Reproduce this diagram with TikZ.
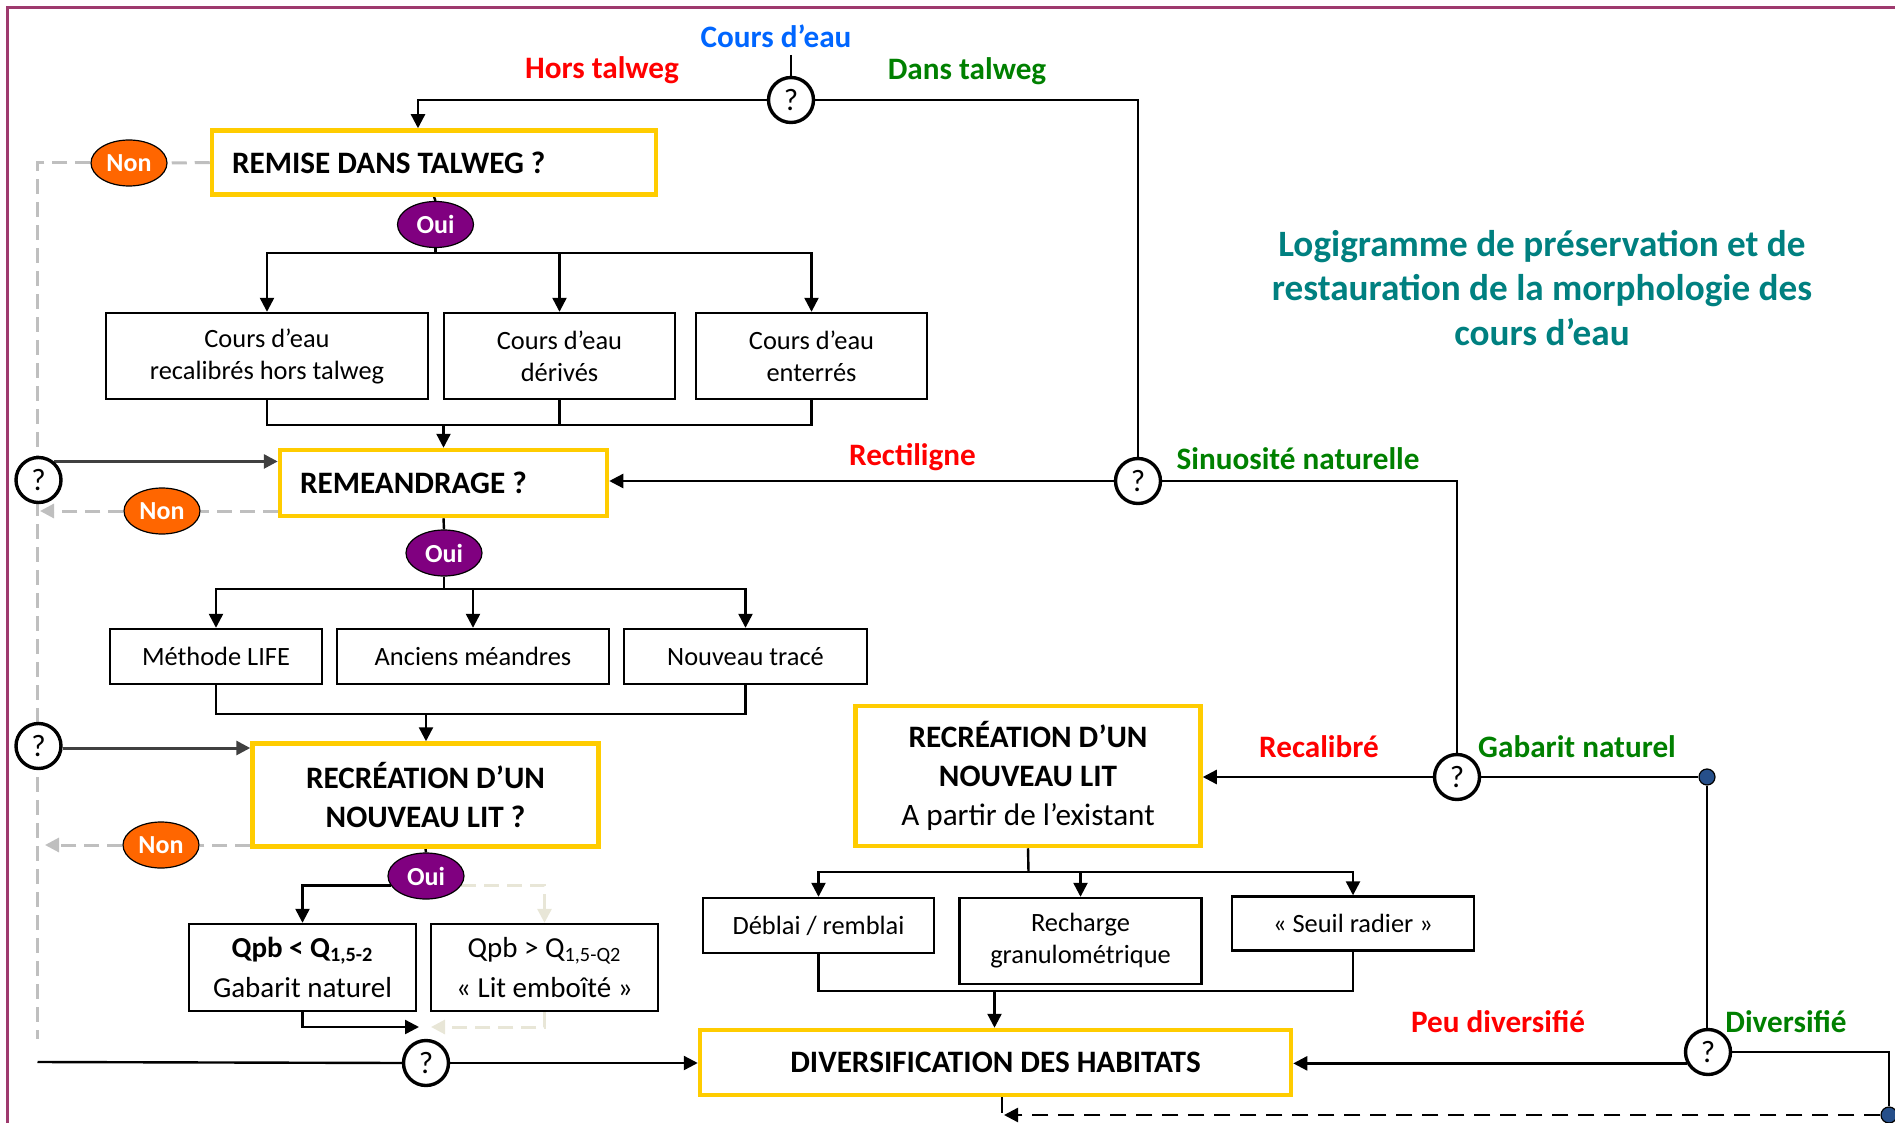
\documentclass[tikz,border=0pt]{standalone}
\usepackage{fontspec}
\setmainfont{Carlito}
\usetikzlibrary{arrows.meta,shapes.geometric,backgrounds}
\definecolor{ybord}{RGB}{255,204,0}
\definecolor{nonc}{RGB}{255,102,0}
\definecolor{ouic}{RGB}{128,0,128}
\definecolor{redc}{RGB}{255,0,0}
\definecolor{greenc}{RGB}{0,128,0}
\definecolor{bluec}{RGB}{0,102,255}
\definecolor{tealc}{RGB}{0,128,128}
\definecolor{framec}{RGB}{158,58,110}
\definecolor{dotc}{RGB}{38,79,138}
\definecolor{gdc}{RGB}{191,191,191}
\definecolor{beigec}{RGB}{232,230,215}
\definecolor{dgray}{RGB}{64,64,64}
\begin{document}
\begin{tikzpicture}[x=0.5pt,y=-0.5pt,
  ybox/.style={draw=ybord, line width=2.25pt, fill=white, font=\bfseries\fontsize{15.6}{19.5}\selectfont, inner sep=0pt},
  sbox/.style={draw=black, line width=1.2pt, fill=white, font=\fontsize{13.2}{16}\selectfont, align=center, inner sep=0pt},
  qc/.style={circle, draw=black, line width=1.7pt, fill=white, minimum size=22.5pt, inner sep=0pt, font=\fontsize{15.5}{18}\selectfont},
  yn/.style={ellipse, draw=black, line width=0.6pt, minimum width=38pt, minimum height=23pt, inner sep=0pt, text=white, font=\bfseries\fontsize{13}{15}\selectfont},
  lbl/.style={font=\bfseries\fontsize{15.6}{19}\selectfont, inner sep=0pt},
  dotst/.style={circle, fill=dotc, draw=black, line width=0.6pt, minimum size=8pt, inner sep=0pt},
  conn/.style={line width=1.2pt, draw=black},
  tip/.style={-{Triangle[length=7pt,width=7pt]}},
  arr/.style={conn, tip},
  darr/.style={line width=1.5pt, draw=dgray, tip},
  gdash/.style={line width=1.5pt, draw=gdc, dash pattern=on 7.5pt off 4pt},
  ldash/.style={line width=1.5pt, draw=beigec, dash pattern=on 7.5pt off 4pt},
  bdash/.style={line width=1.2pt, draw=black, dash pattern=on 8pt off 5pt},
]
\useasboundingbox (0,0) rectangle (1895,1123);
\draw[framec, line width=1.5pt] (7.3,1123) -- (7.3,7.3) -- (1895,7.3);

% ---------- nodes ----------
\node[lbl,text=bluec] (cde) at (776,36) {Cours d’eau};
\node[lbl,text=redc] (hors) at (602,70) {Hors talweg};
\node[lbl,text=greenc] (dans) at (967,71) {Dans talweg};
\node[qc] (q1) at (791,100) {?};
\node[ybox, minimum height=32pt, text width=202pt, align=flush left, inner xsep=10pt] (remise) at (434,162.5) {REMISE DANS TALWEG ?};
\node[yn, fill=nonc] (non1) at (129,163) {Non};
\node[yn, fill=ouic] (oui1) at (435.5,224.5) {Oui};
\node[sbox, minimum width=161pt, minimum height=43pt] (ba) at (267,356) {Cours d’eau\\recalibrés hors talweg};
\node[sbox, minimum width=115.5pt, minimum height=43pt] (bb) at (559.5,356) {Cours d’eau\\dérivés};
\node[sbox, minimum width=115.5pt, minimum height=43pt] (bc) at (811.5,356) {Cours d’eau\\enterrés};

\node[ybox, minimum height=33pt, text width=143.5pt, align=flush left, inner xsep=10pt] (remea) at (443.5,483) {REMEANDRAGE ?};
\node[qc] (ql1) at (38.5,480) {?};
\node[yn, fill=nonc] (non2) at (162,511) {Non};
\node[yn, fill=ouic] (oui2) at (444,553) {Oui};
\node[sbox, minimum width=106pt, minimum height=27.5pt] (m1) at (216,656.5) {Méthode LIFE};
\node[sbox, minimum width=136pt, minimum height=27.5pt] (m2) at (473,656.5) {Anciens méandres};
\node[sbox, minimum width=121.5pt, minimum height=27.5pt] (m3) at (745.5,656.5) {Nouveau tracé};

\node[qc] (ql2) at (38.5,746) {?};
\node[ybox, minimum width=173pt, minimum height=51.5pt, align=center] (recre) at (425.5,795) {RECRÉATION D’UN\\NOUVEAU LIT ?};
\node[yn, fill=nonc] (non3) at (161,845) {Non};
\node[yn, fill=ouic] (oui3) at (426,876) {Oui};
\node[sbox, minimum width=113.5pt, minimum height=43.5pt, font=\fontsize{14.5}{20}\selectfont] (qpb1) at (302.5,967.5) {\textbf{Qpb < Q\textsubscript{1,5-2}}\\Gabarit naturel};
\node[sbox, minimum width=113.5pt, minimum height=43.5pt, font=\fontsize{14.5}{20}\selectfont] (qpb2) at (544.5,967.5) {Qpb > Q\textsubscript{1,5-Q2}\\« Lit emboîté »};
\node[qc] (q5) at (426,1063) {?};
\node[ybox, minimum width=295.5pt, minimum height=32.5pt] (div) at (995.5,1062.5) {DIVERSIFICATION DES HABITATS};

\node[font=\bfseries\fontsize{18.6}{22.35}\selectfont, text=tealc, align=center] (title) at (1542,288) {Logigramme de préservation et de\\restauration de la morphologie des\\cours d’eau};

\node[qc] (sinu) at (1138,481) {?};
\node[lbl,text=redc] (rect) at (912.5,457) {Rectiligne};
\node[lbl,text=greenc] (sinl) at (1298,459) {Sinuosité naturelle};
\node[ybox, minimum width=172.5pt, minimum height=70pt, align=center] (exist) at (1028,776) {RECRÉATION D’UN\\NOUVEAU LIT\\\mdseries A partir de l’existant};
\node[qc] (gab) at (1457,777) {?};
\node[lbl,text=redc] (recal) at (1319,747) {Recalibré};
\node[lbl,text=greenc] (gabl) at (1577,747) {Gabarit naturel};
\node[sbox, minimum width=115.5pt, minimum height=27.5pt] (deb) at (818.5,925.5) {Déblai / remblai};
\node[sbox, minimum width=121pt, minimum height=43pt] (rech) at (1080.5,941) {Recharge\\granulométrique};
\node[sbox, minimum width=121pt, minimum height=27pt] (seuil) at (1353,923.5) {« Seuil radier »};
\node[lbl,text=redc] (peu) at (1498,1022) {Peu diversifié};
\node[lbl,text=greenc] (dvl) at (1786,1022) {Diversifié};
\node[qc] (dv) at (1708,1052) {?};
\node[dotst] (dot1) at (1707,777) {};
\node[dotst] (dot2) at (1889,1115) {};

% ---------- connectors ----------
\coordinate (cdet) at (791,55);
\coordinate (vbot) at (37.5,1039);
\coordinate (j1) at (435.5,253);
\coordinate (j2) at (443.5,425);
\coordinate (a2) at (40,511);
\coordinate (j3) at (444,589);
\coordinate (j4) at (426,714);
\coordinate (a3) at (45,845);
\coordinate (k1) at (419,1027);
\coordinate (k2) at (431,1027);
\coordinate (hl) at (37.5,1062);
\coordinate (j5) at (1028.5,872);
\coordinate (j6) at (994.5,991);
\coordinate (dvb) at (1002,1123);
\coordinate (harr) at (1004,1115);

\begin{scope}[on background layer]
\draw[conn] (cdet) -- (q1.north);
\draw[arr] (q1.west) -| ([xshift=-8pt]remise.north);
\draw[conn] (q1.east) -| (sinu.north);
\draw[gdash] (remise.west) -- (non1.east);
\draw[gdash] (non1.west) -| (vbot);
\draw[conn] (remise.south) -- (oui1.north);
\draw[conn] (oui1.south) -- (j1);
\draw[arr] (j1) -| (ba.north);
\draw[arr] (j1) -| (bb.north);
\draw[arr] (j1) -| (bc.north);
\draw[conn] (ba.south) |- (j2);
\draw[conn] (bc.south) |- (j2);
\draw[conn] (bb.south) -- (bb.south |- j2);
\draw[arr] (j2) -- (remea.north);

\draw[darr] (ql1.50) -- (ql1.50 -| remea.west);
\draw[gdash] ([yshift=-14pt]remea.west) -- (non2.east);
\draw[gdash, tip] (non2.west) -- (a2);
\draw[arr] (sinu.west) -- (sinu.west -| remea.east);
\draw[conn] (remea.south) -- (oui2.north);
\draw[conn] (oui2.south) -- (j3);
\draw[arr] (j3) -| (m1.north);
\draw[arr] (j3) -| (m2.north);
\draw[arr] (j3) -| (m3.north);
\draw[conn] (m1.south) |- (j4);
\draw[conn] (m3.south) |- (j4);
\draw[arr] (j4) -- (j4 |- recre.north);

\draw[darr] ([yshift=-1pt]ql2.east) -- ([yshift=-1pt]ql2.east -| recre.west);
\draw[gdash] (non3.east -| recre.west) -- (non3.east);
\draw[gdash, tip] (non3.west) -- (a3);
\draw[conn] (recre.south) -- (oui3.north);
\draw[arr] (oui3.195) -| (qpb1.north);
\draw[ldash, tip] (oui3.345) -| (qpb2.north);
\draw[arr] (qpb1.south) |- (k1);
\draw[ldash, tip] (qpb2.south) |- (k2);
\draw[conn] (hl) -- (q5.west);
\draw[arr] (q5.east) -- (q5.east -| div.west);

\draw[conn] (sinu.east) -| (gab.north);
\draw[arr] (gab.west) -- (gab.west -| exist.east);
\draw[conn] (gab.east) -- (dot1);
\draw[conn] (dot1) -- (dot1 |- dv.north);
\draw[conn] (exist.south) -- (j5);
\draw[arr] (j5) -| (deb.north);
\draw[arr] (j5) -| (rech.north);
\draw[arr] (j5) -| (seuil.north);
\draw[conn] (deb.south) |- (j6);
\draw[conn] (seuil.south) |- (j6);
\draw[arr] (j6) -- (j6 |- div.north);
\draw[arr] (dv.208) -- (dv.208 -| div.east);
\draw[conn] (dv.east) -| (dot2);
\draw[bdash] (dvb |- div.south) -- (dvb);
\draw[bdash, tip] (dot2) -- (harr);
\end{scope}
\end{tikzpicture}
\end{document}
